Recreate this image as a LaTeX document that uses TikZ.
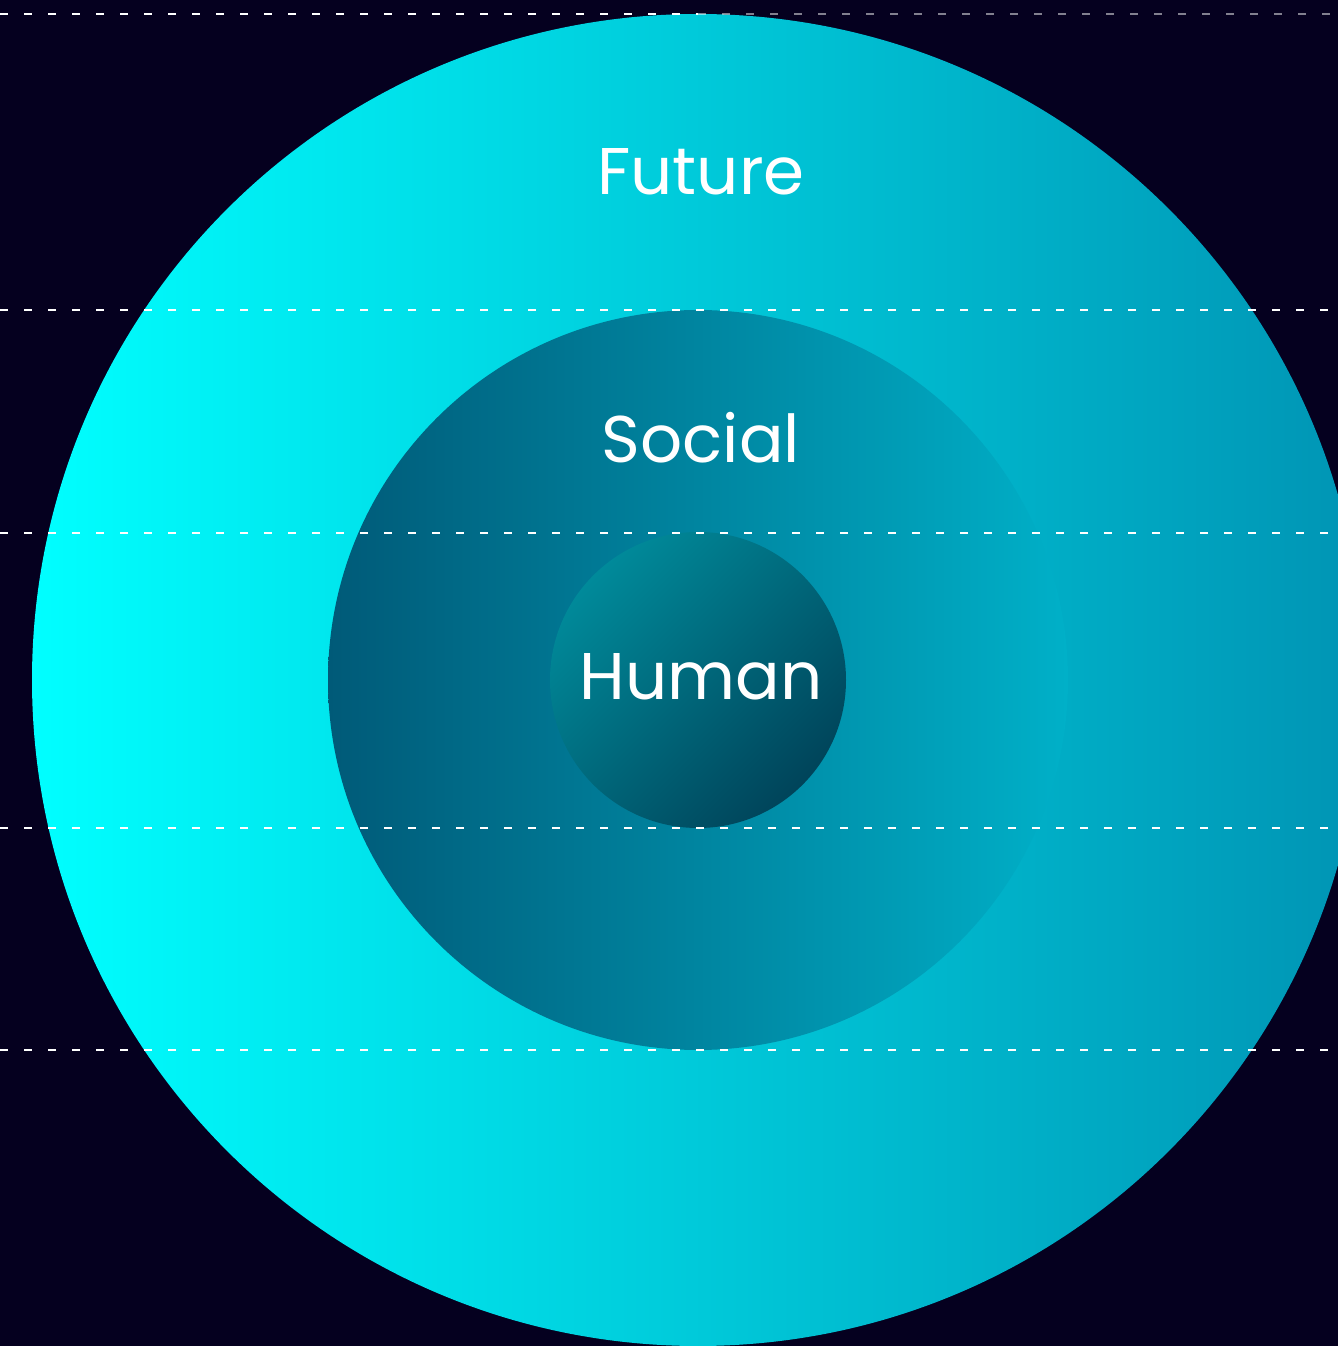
\documentclass[tikz,border=0pt]{standalone}
\usepackage{fontspec}
\setmainfont{Poppins}
\definecolor{bgnavy}{HTML}{05001F}
\definecolor{outerL}{HTML}{00FFFF}
\definecolor{outerR}{HTML}{0094B4}
\definecolor{midL}{HTML}{005A78}
\definecolor{midR}{HTML}{00B0C8}
\definecolor{innerA}{HTML}{008A9A}
\definecolor{innerB}{HTML}{00445A}
\begin{document}
\begin{tikzpicture}[x=0.5pt,y=0.5pt,
  ring/.style={circle,inner sep=0pt,outer sep=0pt,draw=none},
  guide/.style={white,line width=1.25pt,dash pattern=on 4pt off 8pt},
  label/.style={text=white,font=\fontsize{33}{40}\selectfont,anchor=base,inner sep=0pt}]
\fill[bgnavy] (0,0) rectangle (1338,1346);
\useasboundingbox (0,0) rectangle (1338,1346);
\node[ring,minimum size=666pt,left color=outerL,right color=outerR] (outer) at (698,666) {};
\node[ring,minimum size=370pt,left color=midL,right color=midR] (middle) at (698,666) {};
\node[ring,minimum size=148pt,top color=innerA,bottom color=innerB,shading angle=45] (inner) at (698,666) {};
\coordinate (t1) at (0,1332); \coordinate (t2) at (698,1332); \coordinate (t3) at (1338,1332);
\draw[guide] (t1) -- (t2);
\draw[guide,draw opacity=0.5] (t2) -- (t3);
\coordinate (a1) at (0,1036); \coordinate (a2) at (1338,1036);
\coordinate (b1) at (0,813); \coordinate (b2) at (1338,813);
\coordinate (c1) at (0,518); \coordinate (c2) at (1338,518);
\coordinate (d1) at (0,296); \coordinate (d2) at (1338,296);
\draw[guide] (a1) -- (a2);
\draw[guide] (b1) -- (b2);
\draw[guide] (c1) -- (c2);
\draw[guide] (d1) -- (d2);
\node[label] (future) at (701,1151) {Future};
\node[label] (social) at (701,883) {Social};
\node[label] (human) at (701,646) {Human};
\end{tikzpicture}
\end{document}
